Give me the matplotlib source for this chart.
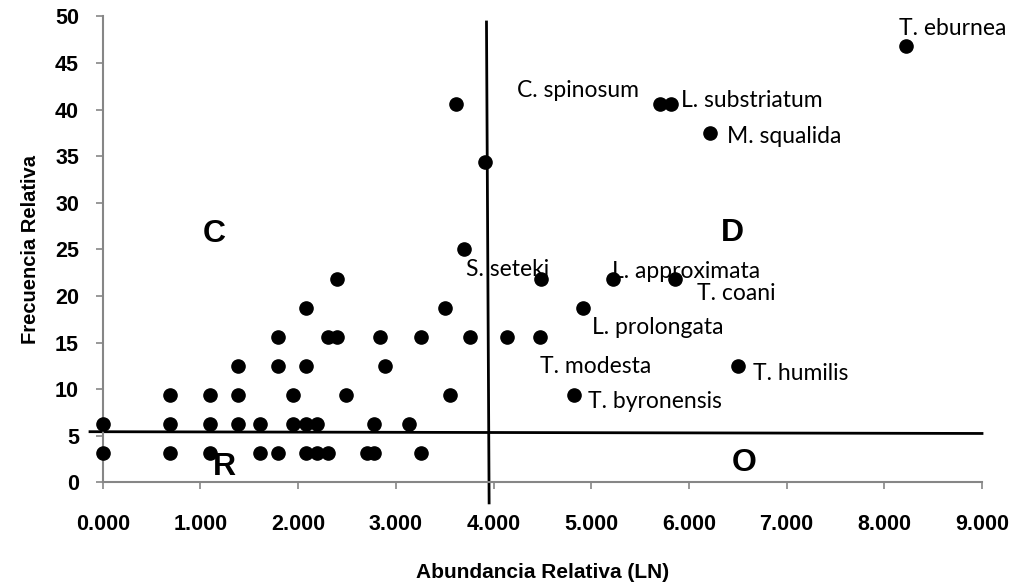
import matplotlib
matplotlib.use("Agg")
import matplotlib.pyplot as plt
from matplotlib.ticker import MultipleLocator, FormatStrFormatter

# Abundancia relativa (LN) y frecuencia relativa de cada especie
abundancia = [
    0.000, 0.693, 1.099, 1.609, 1.792, 2.079, 2.197, 2.303, 2.708, 2.773, 3.258,
    0.000, 0.693, 1.099, 1.386, 1.609, 1.946, 2.079, 2.197, 2.773, 3.135,
    0.693, 1.099, 1.386, 1.946, 2.485, 3.555, 4.820,
    1.386, 1.792, 2.079, 2.890, 6.503,
    1.792, 2.303, 2.398, 2.833, 3.258, 3.761, 4.137, 4.471,
    2.079, 3.500, 4.915,
    2.398, 4.485, 5.223, 5.854,
    3.693,
    3.915,
    6.219,
    3.615, 5.700, 5.817,
    8.227,
]
frecuencia = (
    [3.125] * 11 + [6.25] * 10 + [9.375] * 7 + [12.5] * 5 + [15.625] * 8
    + [18.75] * 3 + [21.875] * 4 + [25.0] + [34.375] + [37.5]
    + [40.625] * 3 + [46.875]
)

# Etiquetas de especies (posicion del texto)
especies = ["T. eburnea", "C. spinosum", "L. substriatum", "M. squalida",
            "S. seteki", "L. approximata", "T. coani", "L. prolongata",
            "T. modesta", "T. humilis", "T. byronensis"]
esp_x = [8.15, 4.24, 5.92, 6.39, 3.72, 5.21, 6.08, 5.01, 4.48, 6.66, 4.97]
esp_y = [48.7, 42.1, 41.0, 37.1, 22.8, 22.6, 20.3, 16.6, 12.4, 11.7, 8.66]

# Cuadrantes
cuadrantes = ["C", "D", "R", "O"]
cuad_x = [1.14, 6.45, 1.245, 6.57]
cuad_y = [26.6, 26.8, 1.65, 2.1]

# Lineas divisorias
linea_h_x = [-0.13, 9.0]
linea_h_y = [5.44, 5.25]
linea_v_x = [3.928, 3.955]
linea_v_y = [49.4, -2.2]

gris = "#868686"

plt.rcParams["font.family"] = "Liberation Sans"
plt.rcParams["font.weight"] = "bold"

fig = plt.figure(figsize=(10.15, 5.88), dpi=100)
ax = fig.add_axes([0.1012, 0.1796, 0.8663, 0.7925])

ax.plot(abundancia, frecuencia, linestyle="none", marker="o",
        markersize=9.5, color="black", clip_on=False, zorder=3)

ax.plot(linea_h_x, linea_h_y, color="black", lw=2, clip_on=False, zorder=2)
ax.plot(linea_v_x, linea_v_y, color="black", lw=2, clip_on=False, zorder=2)

for nombre, x, y in zip(especies, esp_x, esp_y):
    ax.text(x, y, nombre, ha="left", va="center", fontsize=16.5,
            family="Lato", fontweight="normal", color="black", zorder=4)

for letra, x, y in zip(cuadrantes, cuad_x, cuad_y):
    ax.text(x, y, letra, ha="center", va="center", fontsize=23,
            fontweight="bold", zorder=4)

ax.set_xlim(0, 9)
ax.set_ylim(0, 50)
ax.xaxis.set_major_locator(MultipleLocator(1))
ax.yaxis.set_major_locator(MultipleLocator(5))
ax.xaxis.set_major_formatter(FormatStrFormatter("%.3f"))

for lado in ["top", "right"]:
    ax.spines[lado].set_visible(False)
for lado in ["left", "bottom"]:
    ax.spines[lado].set_color(gris)
    ax.spines[lado].set_linewidth(1.5)

ax.tick_params(axis="both", direction="out", length=5, width=1.2,
               color=gris, labelsize=15.5)
ax.tick_params(axis="x", pad=18)
ax.tick_params(axis="y", pad=12)

ax.set_xlabel("Abundancia Relativa (LN)", fontweight="bold",
              fontsize=15, labelpad=20)
ax.set_ylabel("Frecuencia Relativa", fontweight="bold",
              fontsize=14.5, labelpad=11)

fig.savefig("out.png", dpi=100)
